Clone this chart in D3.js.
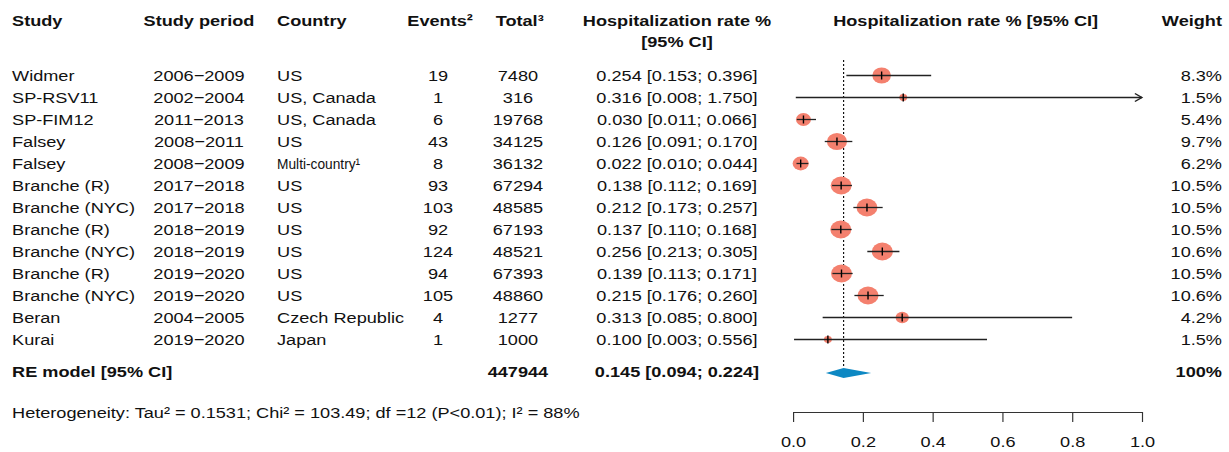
<!DOCTYPE html>
<html>
<head>
<meta charset="utf-8">
<title>Forest plot</title>
<style>
  body { margin: 0; background: #fff; }
  svg { display: block; font-family: "Liberation Sans", Arial, sans-serif; }
  text { fill: #111; }
  .hdr { font-weight: bold; }
</style>
</head>
<body>
<div id="chart"></div>
<script src="https://cdn.jsdelivr.net/npm/d3@7/dist/d3.min.js"></script>
<script>
// study level data
var studies = ["Widmer", "SP-RSV11", "SP-FIM12", "Falsey", "Falsey", "Branche (R)", "Branche (NYC)",
  "Branche (R)", "Branche (NYC)", "Branche (R)", "Branche (NYC)", "Beran", "Kurai"];
var periods = ["2006\u22122009", "2002\u22122004", "2011\u22122013", "2008\u22122011", "2008\u22122009",
  "2017\u22122018", "2017\u22122018", "2018\u22122019", "2018\u22122019", "2019\u22122020", "2019\u22122020",
  "2004\u22122005", "2019\u22122020"];
var countries = ["US", "US, Canada", "US, Canada", "US", "Multi-country\u00b9", "US", "US", "US", "US", "US", "US",
  "Czech Republic", "Japan"];
var events = [19, 1, 6, 43, 8, 93, 103, 92, 124, 94, 105, 4, 1];
var totals = [7480, 316, 19768, 34125, 36132, 67294, 48585, 67193, 48521, 67393, 48860, 1277, 1000];
var rates = [0.254, 0.316, 0.030, 0.126, 0.022, 0.138, 0.212, 0.137, 0.256, 0.139, 0.215, 0.313, 0.100];
var lower = [0.153, 0.008, 0.011, 0.091, 0.010, 0.112, 0.173, 0.110, 0.213, 0.113, 0.176, 0.085, 0.003];
var upper = [0.396, 1.750, 0.066, 0.170, 0.044, 0.169, 0.257, 0.168, 0.305, 0.171, 0.260, 0.800, 0.556];
var weights = [8.3, 1.5, 5.4, 9.7, 6.2, 10.5, 10.5, 10.5, 10.6, 10.5, 10.6, 4.2, 1.5];

// random effects summary
var reTotal = 447944;
var reRate = 0.145, reLower = 0.094, reUpper = 0.224;
var heterogeneity = "Heterogeneity: Tau\u00b2 = 0.1531; Chi\u00b2 = 103.49; df =12 (P<0.01); I\u00b2 = 88%";
var axisTicks = [0, 0.2, 0.4, 0.6, 0.8, 1.0];

var width = 1229, height = 452;
var vw = 1050; // drawing is stretched horizontally like the original
var fs = 15.5;

var svg = d3.select("#chart").append("svg")
  .attr("width", width)
  .attr("height", height)
  .attr("viewBox", "0 0 " + vw + " " + height)
  .attr("preserveAspectRatio", "none")
  .style("font-size", fs + "px");

var idx = d3.range(studies.length);
var y = d3.scalePoint().domain(idx).range([75.5, 339.5]);
var x = d3.scaleLinear().domain([0, 1]).range([677.5, 975.6]);
var r = d3.scaleSqrt().domain([0, 10.6]).range([0, 9]);
var f3 = d3.format(".3f");
var yRE = 372, yHead = 21;

// column headers
var cols = [
  { t: "Study", x: 10.3, a: "start" },
  { t: "Study period", x: 170, a: "middle" },
  { t: "Country", x: 236.7, a: "start" },
  { t: "Events\u00b2", x: 376, a: "middle" },
  { t: "Total\u00b3", x: 444, a: "middle" },
  { t: "Hospitalization rate %", x: 578.4, a: "middle" },
  { t: "Hospitalization rate % [95% CI]", x: 825, a: "middle" },
  { t: "Weight", x: 1044, a: "end" }
];
svg.append("g").selectAll("text").data(cols).enter().append("text")
  .attr("class", "hdr")
  .attr("x", function (d) { return d.x; })
  .attr("y", yHead)
  .attr("dy", "0.35em")
  .attr("text-anchor", function (d) { return d.a; })
  .text(function (d) { return d.t; });
svg.append("text").attr("class", "hdr")
  .attr("x", 578.4).attr("y", 42).attr("dy", "0.35em")
  .attr("text-anchor", "middle").text("[95% CI]");

// table rows
var rows = svg.append("g").selectAll("g").data(idx).enter().append("g")
  .attr("transform", function (i) { return "translate(0," + y(i) + ")"; });

function cell(sel, xp, anchor, fn) {
  return sel.append("text")
    .attr("x", xp)
    .attr("dy", "0.35em")
    .attr("text-anchor", anchor)
    .text(fn);
}
cell(rows, 10.3, "start", function (i) { return studies[i]; });
cell(rows, 170, "middle", function (i) { return periods[i]; });
cell(rows, 236.7, "start", function (i) { return countries[i]; })
  .each(function (i) {
    // the long country label is set condensed in the original
    if (countries[i].indexOf("Multi") === 0) {
      d3.select(this).attr("textLength", 71).attr("lengthAdjust", "spacingAndGlyphs");
    }
  });
cell(rows, 374.2, "middle", function (i) { return events[i]; });
cell(rows, 442.5, "middle", function (i) { return totals[i]; });
cell(rows, 578.4, "middle", function (i) {
  return f3(rates[i]) + " [" + f3(lower[i]) + "; " + f3(upper[i]) + "]";
});
cell(rows, 1044, "end", function (i) { return d3.format(".1f")(weights[i]) + "%"; });

// summary row
var re = svg.append("g").attr("transform", "translate(0," + yRE + ")").style("font-weight", "bold");
cell(re, 10.3, "start", "RE model [95% CI]");
cell(re, 442.5, "middle", reTotal);
cell(re, 578.4, "middle", f3(reRate) + " [" + f3(reLower) + "; " + f3(reUpper) + "]");
cell(re, 1044, "end", "100%");

svg.append("text")
  .attr("x", 10.3).attr("y", 413).attr("dy", "0.35em")
  .text(heterogeneity);

// summary reference line
svg.append("line")
  .attr("x1", x(reRate)).attr("x2", x(reRate))
  .attr("y1", 60).attr("y2", yRE - 5)
  .attr("stroke", "#111")
  .attr("stroke-width", 1)
  .attr("stroke-dasharray", "2,2");

// study markers
var plot = svg.append("g");
plot.selectAll("circle").data(idx).enter().append("circle")
  .attr("cx", function (i) { return x(rates[i]); })
  .attr("cy", function (i) { return y(i); })
  .attr("r", function (i) { return r(weights[i]); })
  .attr("fill", "#F4806E");

plot.selectAll("line.ci").data(idx).enter().append("line")
  .attr("class", "ci")
  .attr("x1", function (i) { return x(lower[i]); })
  .attr("x2", function (i) { return x(Math.min(upper[i], 1)); })
  .attr("y1", function (i) { return y(i); })
  .attr("y2", function (i) { return y(i); })
  .attr("stroke", "#222")
  .attr("stroke-width", 1.3);

// open arrow where the interval runs past the axis
plot.selectAll("path.arrow").data(idx.filter(function (i) { return upper[i] > 1; })).enter()
  .append("path")
  .attr("class", "arrow")
  .attr("d", function (i) {
    var xe = x(1), yy = y(i);
    return "M" + (xe - 6) + "," + (yy - 4) + "L" + xe + "," + yy + "L" + (xe - 6) + "," + (yy + 4);
  })
  .attr("fill", "none")
  .attr("stroke", "#222")
  .attr("stroke-width", 1.3);

plot.selectAll("line.est").data(idx).enter().append("line")
  .attr("class", "est")
  .attr("x1", function (i) { return x(rates[i]); })
  .attr("x2", function (i) { return x(rates[i]); })
  .attr("y1", function (i) { return y(i) - 4; })
  .attr("y2", function (i) { return y(i) + 4; })
  .attr("stroke", "#000")
  .attr("stroke-width", 1.2);

// pooled estimate diamond
svg.append("path")
  .attr("d", "M" + x(reLower) + "," + (yRE + 1) +
    "L" + x(reRate) + "," + (yRE - 4) +
    "L" + x(reUpper) + "," + (yRE + 1) +
    "L" + x(reRate) + "," + (yRE + 6) + "Z")
  .attr("fill", "#0D88C3");

// x axis
var axis = svg.append("g")
  .attr("transform", "translate(0,412)")
  .call(d3.axisBottom(x).tickValues(axisTicks).tickFormat(d3.format(".1f"))
    .tickSize(10).tickSizeOuter(0).tickPadding(14));
axis.selectAll("text").style("font-size", fs + "px").style("font-family", "inherit").attr("fill", "#111");
axis.selectAll("line, path").attr("stroke", "#333");
</script>
</body>
</html>
